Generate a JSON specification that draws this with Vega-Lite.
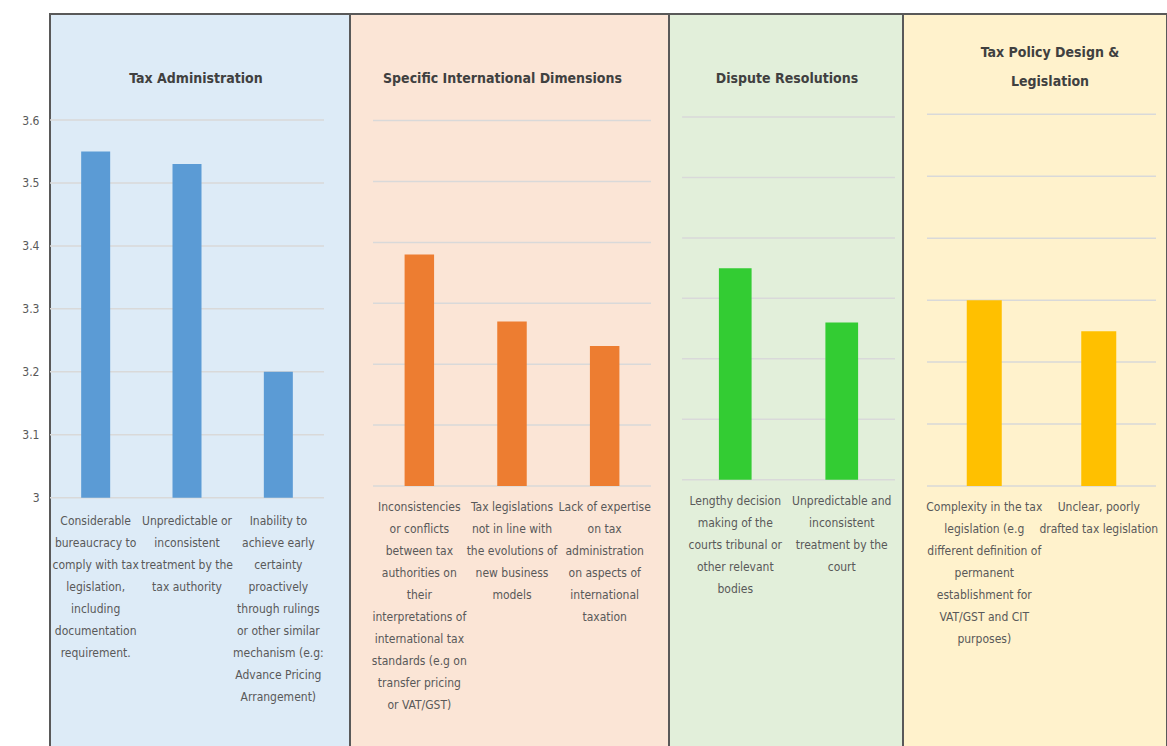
{
  "$schema": "https://vega.github.io/schema/vega-lite/v6.json",
  "background": "white",
  "padding": {"left": 20, "top": 13, "right": 0, "bottom": 0},
  "spacing": 0,
  "bounds": "flush",
  "datasets": {
    "grid": [
      {"level": 3.0}, {"level": 3.1}, {"level": 3.2}, {"level": 3.3},
      {"level": 3.4}, {"level": 3.5}, {"level": 3.6}
    ],
    "issues": [
      {"group": "Tax Administration", "label": "Considerable\nbureaucracy to\ncomply with tax\nlegislation,\nincluding\ndocumentation\nrequirement.", "score": 3.55},
      {"group": "Tax Administration", "label": "Unpredictable or\ninconsistent\ntreatment by the\ntax authority", "score": 3.53},
      {"group": "Tax Administration", "label": "Inability to\nachieve early\ncertainty\nproactively\nthrough rulings\nor other similar\nmechanism (e.g:\nAdvance Pricing\nArrangement)", "score": 3.2},
      {"group": "Specific International Dimensions", "label": "Inconsistencies\nor conflicts\nbetween tax\nauthorities on\ntheir\ninterpretations of\ninternational tax\nstandards (e.g on\ntransfer pricing\nor VAT/GST)", "score": 3.38},
      {"group": "Specific International Dimensions", "label": "Tax legislations\nnot in line with\nthe evolutions of\nnew business\nmodels", "score": 3.27},
      {"group": "Specific International Dimensions", "label": "Lack of expertise\non tax\nadministration\non aspects of\ninternational\ntaxation", "score": 3.23},
      {"group": "Dispute Resolutions", "label": "Lengthy decision\nmaking of the\ncourts tribunal or\nother relevant\nbodies", "score": 3.35},
      {"group": "Dispute Resolutions", "label": "Unpredictable and\ninconsistent\ntreatment by the\ncourt", "score": 3.26},
      {"group": "Tax Policy Design & Legislation", "label": "Complexity in the tax\nlegislation (e.g\ndifferent definition of\npermanent\nestablishment for\nVAT/GST and CIT\npurposes)", "score": 3.3},
      {"group": "Tax Policy Design & Legislation", "label": "Unclear, poorly\ndrafted tax legislation", "score": 3.25}
    ]
  },
  "hconcat": [
    {
      "width": 300,
      "height": 733,
      "view": {"fill": "#DDEBF7", "stroke": "#595959", "strokeWidth": 2},
      "title": {"text": "Tax Administration", "offset": -86, "dx": -4, "baseline": "bottom", "frame": "group", "anchor": "middle"},
      "layer": [
        {
          "data": {"name": "grid"},
          "mark": {"type": "rule", "color": "#D9D9D9", "strokeWidth": 1.5},
          "encoding": {
            "y": {"field": "level", "type": "quantitative",
                  "scale": {"domain": [2.604, 3.7684], "zero": false, "nice": false},
                  "axis": {"values": [3, 3.1, 3.2, 3.3, 3.4, 3.5, 3.6], "format": "~g", "grid": false, "domain": false, "ticks": false, "labelPadding": 11, "title": null}},
            "x": {"datum": "Considerable\nbureaucracy to\ncomply with tax\nlegislation,\nincluding\ndocumentation\nrequirement.", "type": "nominal", "bandPosition": -1.0748,
                  "scale": {"domain": [
                    "Considerable\nbureaucracy to\ncomply with tax\nlegislation,\nincluding\ndocumentation\nrequirement.",
                    "Unpredictable or\ninconsistent\ntreatment by the\ntax authority",
                    "Inability to\nachieve early\ncertainty\nproactively\nthrough rulings\nor other similar\nmechanism (e.g:\nAdvance Pricing\nArrangement)"],
                    "paddingInner": 0.6825, "paddingOuter": 0.4836, "align": 0.3529, "round": false},
                  "axis": null},
            "x2": {"datum": "Inability to\nachieve early\ncertainty\nproactively\nthrough rulings\nor other similar\nmechanism (e.g:\nAdvance Pricing\nArrangement)", "bandPosition": 2.0745}
          }
        },
        {
          "data": {"name": "issues"},
          "transform": [{"filter": "datum.group === 'Tax Administration'"}],
          "mark": {"type": "bar", "color": "#5B9BD5"},
          "encoding": {
            "x": {"field": "label", "type": "nominal", "axis": null},
            "y": {"field": "score", "type": "quantitative",
                  "axis": {"values": [3, 3.1, 3.2, 3.3, 3.4, 3.5, 3.6], "format": "~g", "grid": false, "domain": false, "ticks": false, "labelPadding": 11, "title": null}},
            "y2": {"datum": 3}
          }
        },
        {
          "data": {"name": "issues"},
          "transform": [{"filter": "datum.group === 'Tax Administration'"}],
          "mark": {"type": "text", "dy": 18},
          "encoding": {
            "x": {"field": "label", "type": "nominal", "axis": null},
            "y": {"datum": 3, "type": "quantitative",
                  "axis": {"values": [3, 3.1, 3.2, 3.3, 3.4, 3.5, 3.6], "format": "~g", "grid": false, "domain": false, "ticks": false, "labelPadding": 11, "title": null}},
            "text": {"field": "label"}
          }
        }
      ]
    },
    {
      "width": 319,
      "height": 733,
      "view": {"fill": "#FBE5D6", "stroke": "#595959", "strokeWidth": 2},
      "title": {"text": "Specific International Dimensions", "offset": -86, "dx": -7, "baseline": "bottom", "frame": "group", "anchor": "middle"},
      "layer": [
        {
          "data": {"name": "grid"},
          "mark": {"type": "rule", "color": "#D9D9D9", "strokeWidth": 1.5},
          "encoding": {
            "y": {"field": "level", "type": "quantitative",
                  "scale": {"domain": [2.5714, 3.775], "zero": false, "nice": false},
                  "axis": null},
            "x": {"datum": "Inconsistencies\nor conflicts\nbetween tax\nauthorities on\ntheir\ninterpretations of\ninternational tax\nstandards (e.g on\ntransfer pricing\nor VAT/GST)", "type": "nominal", "bandPosition": -1.0707,
                  "scale": {"domain": [
                    "Inconsistencies\nor conflicts\nbetween tax\nauthorities on\ntheir\ninterpretations of\ninternational tax\nstandards (e.g on\ntransfer pricing\nor VAT/GST)",
                    "Tax legislations\nnot in line with\nthe evolutions of\nnew business\nmodels",
                    "Lack of expertise\non tax\nadministration\non aspects of\ninternational\ntaxation"],
                    "paddingInner": 0.6817, "paddingOuter": 0.5621, "align": 0.524, "round": false},
                  "axis": null},
            "x2": {"datum": "Lack of expertise\non tax\nadministration\non aspects of\ninternational\ntaxation", "bandPosition": 2.0705}
          }
        },
        {
          "data": {"name": "issues"},
          "transform": [{"filter": "datum.group === 'Specific International Dimensions'"}],
          "mark": {"type": "bar", "color": "#ED7D31"},
          "encoding": {
            "x": {"field": "label", "type": "nominal", "axis": null},
            "y": {"field": "score", "type": "quantitative", "axis": null},
            "y2": {"datum": 3}
          }
        },
        {
          "data": {"name": "issues"},
          "transform": [{"filter": "datum.group === 'Specific International Dimensions'"}],
          "mark": {"type": "text", "dy": 16},
          "encoding": {
            "x": {"field": "label", "type": "nominal", "axis": null},
            "y": {"datum": 3, "type": "quantitative", "axis": null},
            "text": {"field": "label"}
          }
        }
      ]
    },
    {
      "width": 234,
      "height": 733,
      "view": {"fill": "#E2EFDA", "stroke": "#595959", "strokeWidth": 2},
      "title": {"text": "Dispute Resolutions", "offset": -86, "dx": 1, "baseline": "bottom", "frame": "group", "anchor": "middle"},
      "layer": [
        {
          "data": {"name": "grid"},
          "mark": {"type": "rule", "color": "#D9D9D9", "strokeWidth": 1.5},
          "encoding": {
            "y": {"field": "level", "type": "quantitative",
                  "scale": {"domain": [2.5578, 3.7704], "zero": false, "nice": false},
                  "axis": null},
            "x": {"datum": "Lengthy decision\nmaking of the\ncourts tribunal or\nother relevant\nbodies", "type": "nominal", "bandPosition": -1.1284,
                  "scale": {"domain": [
                    "Lengthy decision\nmaking of the\ncourts tribunal or\nother relevant\nbodies",
                    "Unpredictable and\ninconsistent\ntreatment by the\ncourt"],
                    "paddingInner": 0.693, "paddingOuter": 0.4451, "align": 0.5264, "round": false},
                  "axis": null},
            "x2": {"datum": "Unpredictable and\ninconsistent\ntreatment by the\ncourt", "bandPosition": 2.1284}
          }
        },
        {
          "data": {"name": "issues"},
          "transform": [{"filter": "datum.group === 'Dispute Resolutions'"}],
          "mark": {"type": "bar", "color": "#33CC33"},
          "encoding": {
            "x": {"field": "label", "type": "nominal", "axis": null},
            "y": {"field": "score", "type": "quantitative", "axis": null},
            "y2": {"datum": 3}
          }
        },
        {
          "data": {"name": "issues"},
          "transform": [{"filter": "datum.group === 'Dispute Resolutions'"}],
          "mark": {"type": "text", "dy": 16},
          "encoding": {
            "x": {"field": "label", "type": "nominal", "axis": null},
            "y": {"datum": 3, "type": "quantitative", "axis": null},
            "text": {"field": "label"}
          }
        }
      ]
    },
    {
      "width": 264,
      "height": 733,
      "view": {"fill": "#FFF2CC", "stroke": "#595959", "strokeWidth": 2},
      "title": {"text": ["Tax Policy Design &", "Legislation"], "offset": -89, "dx": 15, "baseline": "bottom", "frame": "group", "anchor": "middle", "lineHeight": 29},
      "layer": [
        {
          "data": {"name": "grid"},
          "mark": {"type": "rule", "color": "#D9D9D9", "strokeWidth": 1.5},
          "encoding": {
            "y": {"field": "level", "type": "quantitative",
                  "scale": {"domain": [2.5787, 3.7619], "zero": false, "nice": false},
                  "axis": null},
            "x": {"datum": "Complexity in the tax\nlegislation (e.g\ndifferent definition of\npermanent\nestablishment for\nVAT/GST and CIT\npurposes)", "type": "nominal", "bandPosition": -1.1357,
                  "scale": {"domain": [
                    "Complexity in the tax\nlegislation (e.g\ndifferent definition of\npermanent\nestablishment for\nVAT/GST and CIT\npurposes)",
                    "Unclear, poorly\ndrafted tax legislation"],
                    "paddingInner": 0.6943, "paddingOuter": 0.5, "align": 0.5568, "round": false},
                  "axis": null},
            "x2": {"datum": "Unclear, poorly\ndrafted tax legislation", "bandPosition": 2.1357}
          }
        },
        {
          "data": {"name": "issues"},
          "transform": [{"filter": "datum.group === 'Tax Policy Design & Legislation'"}],
          "mark": {"type": "bar", "color": "#FFC000"},
          "encoding": {
            "x": {"field": "label", "type": "nominal", "axis": null},
            "y": {"field": "score", "type": "quantitative", "axis": null},
            "y2": {"datum": 3}
          }
        },
        {
          "data": {"name": "issues"},
          "transform": [{"filter": "datum.group === 'Tax Policy Design & Legislation'"}],
          "mark": {"type": "text", "dy": 16},
          "encoding": {
            "x": {"field": "label", "type": "nominal", "axis": null},
            "y": {"datum": 3, "type": "quantitative", "axis": null},
            "text": {"field": "label"}
          }
        }
      ]
    }
  ],
  "config": {
    "concat": {"spacing": 0},
    "title": {"font": "'DejaVu Sans Condensed', 'Open Sans', sans-serif", "fontSize": 14, "fontWeight": "bold", "color": "#404040"},
    "text": {"font": "'DejaVu Sans Condensed', 'Open Sans', sans-serif", "fontSize": 12, "lineHeight": 22, "color": "#595959", "align": "center", "baseline": "top", "lineBreak": "\n"},
    "axis": {"labelFont": "'DejaVu Sans Condensed', 'Open Sans', sans-serif", "labelFontSize": 12, "labelColor": "#595959"}
  }
}
